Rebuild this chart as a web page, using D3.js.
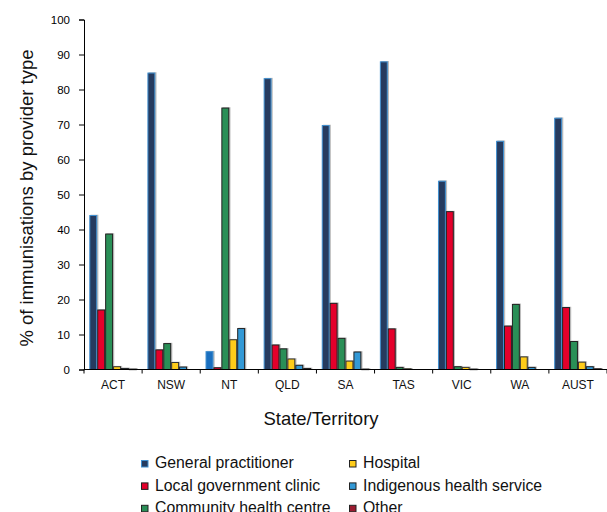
<!DOCTYPE html>
<html><head><meta charset="utf-8">
<script src="https://cdn.jsdelivr.net/npm/d3@7"></script>
<style>body{margin:0;background:#fff}svg{display:block;font-family:"Liberation Sans",Arial,sans-serif}</style>
</head><body><svg id="c" width="607" height="512"></svg>
<script>
const categories = ["ACT","NSW","NT","QLD","SA","TAS","VIC","WA","AUST"];
const seriesNames = ["General practitioner","Local government clinic","Community health centre","Hospital","Indigenous health service","Other"];
const generalPractitioner = [44.0,84.7,5.1,83.1,69.7,87.9,53.8,65.2,71.8];
const localGovernmentClinic = [17.0,5.6,0.5,7.0,18.9,11.6,45.1,12.4,17.7];
const communityHealthCentre = [38.7,7.4,74.7,5.9,8.9,0.6,0.8,18.6,8.0];
const hospital = [0.8,2.0,8.5,3.0,2.4,0.2,0.6,3.6,2.1];
const indigenousHealthService = [0.3,0.7,11.7,1.2,5.0,0.0,0.1,0.6,0.8];
const other = [0.1,0.0,0.0,0.3,0.1,0.0,0.0,0.0,0.2];
const yTicks = [0,10,20,30,40,50,60,70,80,90,100];

const seriesValues = [generalPractitioner,localGovernmentClinic,communityHealthCentre,hospital,indigenousHealthService,other];
const fills = ["#263b5f","#e4002b","#2a8f57","#ffcc1a","#3399d6","#9b1b30"];
const strokes = ["#3f8fd0","#222","#222","#333","#222","#222"];
const fillOverride = {"NT|General practitioner":"#1a6fbf"};

const svg = d3.select("#c");
const m = {l:84, t:19.5, r:0, b:142.5};
const W = 607 - m.l - m.r, H = 512 - m.t - m.b;
const g = svg.append("g").attr("transform",`translate(${m.l},${m.t})`);

const x0 = d3.scaleBand().domain(categories).range([0,W]).paddingInner(0).paddingOuter(0);
const x1 = d3.scaleBand().domain(seriesNames).range([5.3, x0.bandwidth()-5.3]);
const y = d3.scaleLinear().domain([0,100]).range([H,0]);

// bars
categories.forEach((c,ci)=>{
  const gg = g.append("g").attr("transform",`translate(${x0(c)},0)`);
  seriesNames.forEach((s,si)=>{
    const v = seriesValues[si][ci];
    const bx = x1(s), bw = x1.bandwidth(), by = y(v), bh = H - y(v);
    if (bh <= 0) return;
    gg.append("rect").attr("x",bx+1.2).attr("y",by-0.8).attr("width",bw).attr("height",bh+0.8)
      .attr("fill","#bdbdbd");
    gg.append("rect").attr("x",bx+0.5).attr("y",by).attr("width",bw-1).attr("height",Math.max(bh,0.5))
      .attr("fill",fillOverride[c+"|"+s]||fills[si]).attr("stroke",strokes[si]).attr("stroke-width",1);
  });
});

// axes
const ya = d3.axisLeft(y).tickValues(yTicks).tickSize(5).tickPadding(9);
const yg = g.append("g").call(ya);
yg.select(".domain").attr("stroke","#000");
yg.selectAll("text").attr("font-size",11.5).attr("fill","#000").attr("font-family","Liberation Sans, Arial, sans-serif");

const xg = g.append("g").attr("transform",`translate(0,${H})`);
xg.append("line").attr("x1",0).attr("x2",W).attr("y1",0).attr("y2",0).attr("stroke","#000");
const bounds = categories.map(c=>x0(c)).concat([W]);
xg.selectAll(".tk").data(bounds).join("line").attr("x1",d=>d).attr("x2",d=>d).attr("y1",0).attr("y2",4).attr("stroke","#000");
xg.selectAll(".lb").data(categories).join("text").attr("x",d=>x0(d)+x0.bandwidth()/2).attr("y",19.5)
  .attr("text-anchor","middle").attr("font-size",12).attr("fill","#111").text(d=>d);

svg.append("text").attr("x",321).attr("y",425).attr("text-anchor","middle").attr("font-size",18.5).attr("fill","#111").text("State/Territory");
svg.append("text").attr("transform","translate(33,198) rotate(-90)").attr("text-anchor","middle").attr("font-size",18.5).attr("fill","#111").text("% of immunisations by provider type");

// legend
const lg = svg.append("g");
seriesNames.forEach((s,i)=>{
  const col = i<3?0:1, row = i%3;
  const lx = col===0?141:349, ly = 460 + row*22.4;
  lg.append("rect").attr("x",lx+0.5).attr("y",ly+0.5).attr("width",6.5).attr("height",6.5)
    .attr("fill",fills[i]).attr("stroke",i===0?"#3f8fd0":"#222").attr("stroke-width",1);
  lg.append("text").attr("x",lx+14).attr("y",ly+8.3).attr("font-size",15.8).attr("fill","#111").text(s);
});
</script></body></html>
